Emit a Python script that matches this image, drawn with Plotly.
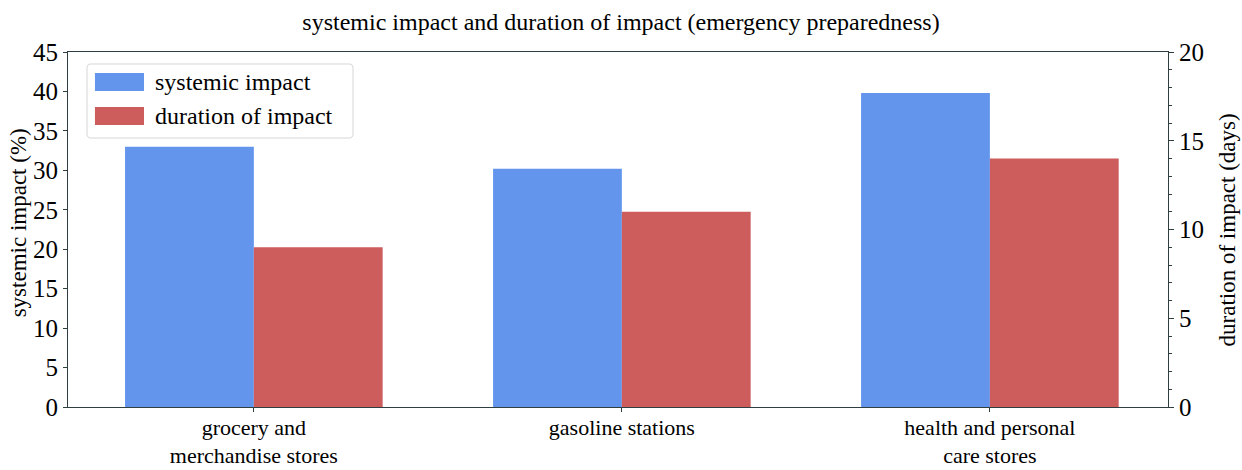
import plotly.graph_objects as go

# Store categories (multi-line tick labels)
categories = ["grocery and<br>merchandise stores", "gasoline stations", "health and personal<br>care stores"]
positions = [0, 1, 2]

# Series values
systemic_impact_pct = [33.0, 30.2, 39.8]
duration_days = [9.0, 11.0, 14.0]

left_ticks = [0, 5, 10, 15, 20, 25, 30, 35, 40, 45]
right_ticks = [0, 5, 10, 15, 20]

series_names = ["systemic impact", "duration of impact"]
series_colors = ["#6495ED", "#CD5C5C"]

SERIF = "Liberation Serif, Times New Roman, serif"
BAR_W = 0.35

fig = go.Figure()
fig.add_trace(go.Bar(
    x=positions, y=systemic_impact_pct, name=series_names[0],
    width=BAR_W, offset=-BAR_W, marker=dict(color=series_colors[0], line=dict(width=0)),
    yaxis="y",
))
fig.add_trace(go.Bar(
    x=positions, y=duration_days, name=series_names[1],
    width=BAR_W, offset=0, marker=dict(color=series_colors[1], line=dict(width=0)),
    yaxis="y2",
))

axis_line = dict(showline=True, linecolor="#2f3f3f", linewidth=1.2)

# Legend drawn as a framed box with wide colour swatches (paper coordinates)
box_x0, box_x1, box_y0, box_y1 = 0.0173, 0.2591, 0.7577, 0.9662
rx, ry = 0.0036, 0.0113
legend_path = (
    f"M {box_x0+rx},{box_y1} L {box_x1-rx},{box_y1} Q {box_x1},{box_y1} {box_x1},{box_y1-ry} "
    f"L {box_x1},{box_y0+ry} Q {box_x1},{box_y0} {box_x1-rx},{box_y0} "
    f"L {box_x0+rx},{box_y0} Q {box_x0},{box_y0} {box_x0},{box_y0+ry} "
    f"L {box_x0},{box_y1-ry} Q {box_x0},{box_y1} {box_x0+rx},{box_y1} Z"
)
shapes = [dict(type="path", xref="paper", yref="paper", path=legend_path,
               fillcolor="rgba(255,255,255,0.85)", line=dict(color="#d6d6d6", width=1))]
annotations = []
swatch_rows = [(0.8901, 0.9408, 0.9155), (0.7944, 0.8451, 0.8197)]
for (y0, y1, yt), name, color in zip(swatch_rows, series_names, series_colors):
    shapes.append(dict(type="rect", xref="paper", yref="paper",
                       x0=0.0245, x1=0.0691, y0=y0, y1=y1,
                       fillcolor=color, line=dict(width=0)))
    annotations.append(dict(xref="paper", yref="paper", x=0.0773, y=yt,
                            xanchor="left", yanchor="middle", showarrow=False,
                            text=name, font=dict(size=24, family=SERIF, color="black")))

# Axis titles placed as rotated annotations
annotations.append(dict(xref="paper", yref="paper", x=-0.0455, y=0.52,
                        xanchor="center", yanchor="middle", textangle=-90, showarrow=False,
                        text="systemic impact (%)", font=dict(size=23, family=SERIF, color="black")))
annotations.append(dict(xref="paper", yref="paper", x=1.0545, y=0.5,
                        xanchor="center", yanchor="middle", textangle=-90, showarrow=False,
                        text="duration of impact (days)", font=dict(size=23, family=SERIF, color="black")))

fig.update_layout(
    width=1242, height=470,
    margin=dict(l=68, r=74, t=52, b=63),
    paper_bgcolor="white", plot_bgcolor="white",
    font=dict(family=SERIF, color="black"),
    title=dict(text="systemic impact and duration of impact (emergency preparedness)",
               x=0.5, xanchor="center", y=0.953, yanchor="middle",
               font=dict(size=24, family=SERIF)),
    showlegend=False,
    shapes=shapes,
    annotations=annotations,
    xaxis=dict(range=[-0.505, 2.484], tickvals=positions, ticktext=categories,
               ticks="outside", ticklen=4, tickcolor="#2f3f3f", showgrid=False,
               zeroline=False, mirror=True, automargin=False, ticklabelstandoff=-4,
               tickfont=dict(size=22, family=SERIF),
               **axis_line),
    yaxis=dict(range=[0, 45], tickvals=left_ticks, ticks="outside", ticklen=4,
               tickcolor="#2f3f3f", showgrid=False, zeroline=False, automargin=False,
               tickfont=dict(size=25, family=SERIF),
               **axis_line),
    yaxis2=dict(range=[0, 20], tickvals=right_ticks, overlaying="y", side="right",
                ticks="outside", ticklen=5, tickcolor="#2f3f3f", showgrid=False,
                zeroline=False, automargin=False, tickfont=dict(size=25, family=SERIF),
                minor=dict(dtick=1, ticks="outside", ticklen=2.5, tickcolor="#2f3f3f", showgrid=False),
                **axis_line),
)

fig.write_html("out.html")
